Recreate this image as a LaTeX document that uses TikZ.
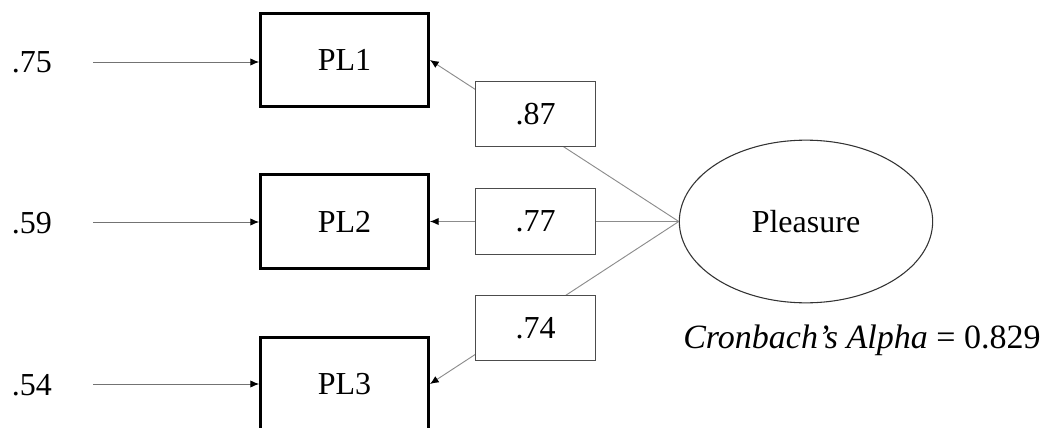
\documentclass[tikz,border=0pt]{standalone}
\usepackage{fontspec}
\setmainfont{Liberation Serif}
\usetikzlibrary{arrows.meta,shapes.geometric}
\begin{document}
\begin{tikzpicture}[x=0.75pt,y=-0.75pt,
  every node/.style={font=\fontsize{24}{28}\selectfont},
  obs/.style={draw=black,line width=2.2pt,minimum width=126pt,minimum height=70pt,inner sep=0pt,fill=white},
  lab/.style={draw=black!70,line width=0.9pt,minimum width=90pt,minimum height=49pt,inner sep=0pt,fill=white},
  lat/.style={ellipse,draw=black!80,line width=0.8pt,minimum width=190pt,minimum height=122pt,inner sep=0pt},
  err/.style={inner sep=0pt},
  link/.style={draw=black!45,line width=0.7pt,-{Latex[length=6.5pt,width=5.5pt,black]}},
  elink/.style={draw=black!55,line width=0.7pt,-{Latex[length=6.5pt,width=5.5pt,black]}}
]
\useasboundingbox (0,0) rectangle (1047,428);
\node[obs] (pl1) at (344.5,60) {PL1};
\node[obs] (pl2) at (344.5,221.5) {PL2};
\node[obs] (pl3) at (344.5,384) {PL3};
\node[lat] (ple) at (806,221.5) {Pleasure};
\node[err] (e1) at (32,62) {.75};
\node[err] (e2) at (32,223) {.59};
\node[err] (e3) at (32,385) {.54};
\coordinate (s1) at (93,62);
\coordinate (s2) at (93,222);
\coordinate (s3) at (93,384);
\draw[elink] (s1) -- (s1 -| pl1.west);
\draw[elink] (s2) -- (s2 -| pl2.west);
\draw[elink] (s3) -- (s3 -| pl3.west);
\draw[link] (ple.west) -- (pl1.east);
\draw[link] (ple.west) -- (pl2.east);
\draw[link] (ple.west) -- (pl3.east);
\node[lab] (l1) at (535.5,114) {.87};
\node[lab] (l2) at (535.5,221.5) {.77};
\node[lab] (l3) at (535.5,328) {.74};
\node[anchor=west,inner sep=0pt,font=\fontsize{25.5}{30}\selectfont] (ca) at (683,340) {\textit{Cronbach’s Alpha} = 0.829};
\end{tikzpicture}
\end{document}
